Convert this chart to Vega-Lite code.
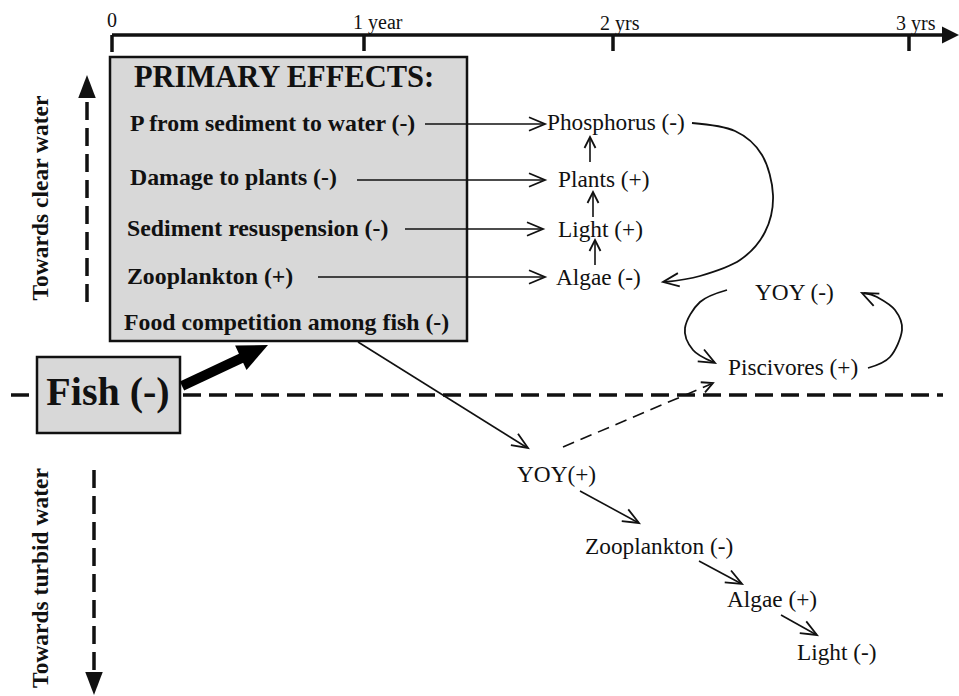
{
  "$schema": "https://vega.github.io/schema/vega-lite/v6.json",
  "width": 959,
  "height": 696,
  "padding": 0,
  "autosize": {"type": "fit", "contains": "padding"},
  "background": "white",
  "config": {"view": {"stroke": null}, "axis": {"disable": true}},
  "datasets": {
    "boxes": [
      {"id": "primary", "x": 110, "x2": 467, "y": 57, "y2": 341},
      {"id": "fish", "x": 37, "x2": 180, "y": 357, "y2": 433}
    ],
    "segments": [
      {"kind": "axis", "x": 112, "y": 35, "x2": 945, "y2": 35},
      {"kind": "axis", "x": 112, "y": 35, "x2": 112, "y2": 52},
      {"kind": "axis", "x": 364, "y": 35, "x2": 364, "y2": 51},
      {"kind": "axis", "x": 613, "y": 35, "x2": 613, "y2": 51},
      {"kind": "axis", "x": 909, "y": 35, "x2": 909, "y2": 51},
      {"kind": "thin", "x": 425, "y": 124, "x2": 543, "y2": 124},
      {"kind": "thin", "x": 357, "y": 180, "x2": 543, "y2": 180},
      {"kind": "thin", "x": 405, "y": 229, "x2": 541, "y2": 229},
      {"kind": "thin", "x": 318, "y": 277, "x2": 543, "y2": 277},
      {"kind": "thin", "x": 590, "y": 162, "x2": 590, "y2": 139},
      {"kind": "thin", "x": 593, "y": 217, "x2": 593, "y2": 194},
      {"kind": "thin", "x": 595, "y": 265, "x2": 595, "y2": 242},
      {"kind": "thin", "x": 358, "y": 342, "x2": 526, "y2": 447},
      {"kind": "thin", "x": 580, "y": 491, "x2": 637, "y2": 522},
      {"kind": "thin", "x": 699, "y": 561, "x2": 740, "y2": 583},
      {"kind": "thin", "x": 781, "y": 615, "x2": 815, "y2": 634},
      {"kind": "dashthin", "x": 563, "y": 447, "x2": 711, "y2": 384},
      {"kind": "dashthick", "x": 11, "y": 395, "x2": 37, "y2": 395},
      {"kind": "dashthick", "x": 183, "y": 395, "x2": 943, "y2": 395},
      {"kind": "dashthick", "x": 87, "y": 102, "x2": 87, "y2": 305},
      {"kind": "dashthick", "x": 94, "y": 470, "x2": 94, "y2": 677},
      {"kind": "shaft", "x": 182, "y": 386, "x2": 248, "y2": 355}
    ],
    "curves": [
      {"id": "A", "i": 1, "x": 692, "y": 123},
      {"id": "A", "i": 2, "x": 735, "y": 131},
      {"id": "A", "i": 3, "x": 762, "y": 155},
      {"id": "A", "i": 4, "x": 773, "y": 195},
      {"id": "A", "i": 5, "x": 765, "y": 232},
      {"id": "A", "i": 6, "x": 740, "y": 260},
      {"id": "A", "i": 7, "x": 700, "y": 276},
      {"id": "A", "i": 8, "x": 665, "y": 282},
      {"id": "B", "i": 1, "x": 727, "y": 290},
      {"id": "B", "i": 2, "x": 700, "y": 302},
      {"id": "B", "i": 3, "x": 685, "y": 328},
      {"id": "B", "i": 4, "x": 693, "y": 350},
      {"id": "B", "i": 5, "x": 713, "y": 362},
      {"id": "C", "i": 1, "x": 868, "y": 368},
      {"id": "C", "i": 2, "x": 890, "y": 357},
      {"id": "C", "i": 3, "x": 902, "y": 330},
      {"id": "C", "i": 4, "x": 895, "y": 310},
      {"id": "C", "i": 5, "x": 877, "y": 297},
      {"id": "C", "i": 6, "x": 864, "y": 293}
    ],
    "heads": [
      {"kind": "open", "x": 545, "y": 124, "dir": 0},
      {"kind": "open", "x": 545, "y": 180, "dir": 0},
      {"kind": "open", "x": 543, "y": 229, "dir": 0},
      {"kind": "open", "x": 545, "y": 277, "dir": 0},
      {"kind": "open", "x": 528, "y": 448, "dir": 32},
      {"kind": "open", "x": 639, "y": 523, "dir": 29},
      {"kind": "open", "x": 742, "y": 584, "dir": 28},
      {"kind": "open", "x": 817, "y": 635, "dir": 29},
      {"kind": "open", "x": 663, "y": 282, "dir": 172},
      {"kind": "open", "x": 715, "y": 363, "dir": 28},
      {"kind": "open", "x": 862, "y": 293, "dir": 205},
      {"kind": "small", "x": 590, "y": 137, "dir": -90},
      {"kind": "small", "x": 593, "y": 192, "dir": -90},
      {"kind": "small", "x": 595, "y": 240, "dir": -90},
      {"kind": "small", "x": 713, "y": 383, "dir": -23},
      {"kind": "timeline", "x": 959, "y": 35, "dir": 0},
      {"kind": "side", "x": 87, "y": 75, "dir": -90},
      {"kind": "side", "x": 94, "y": 695, "dir": 90},
      {"kind": "fish", "x": 268, "y": 345, "dir": -25}
    ],
    "labels": [
      {"role": "axis", "text": "0", "x": 107, "y": 21},
      {"role": "axis", "text": "1 year", "x": 353, "y": 23},
      {"role": "axis", "text": "2 yrs", "x": 600, "y": 24},
      {"role": "axis", "text": "3 yrs", "x": 896, "y": 24},
      {"role": "heading", "text": "PRIMARY EFFECTS:", "x": 284, "y": 78},
      {"role": "item", "text": "P from sediment to water (-)", "x": 130, "y": 124},
      {"role": "item", "text": "Damage to plants (-)", "x": 130, "y": 178},
      {"role": "item", "text": "Sediment resuspension (-)", "x": 127, "y": 229},
      {"role": "item", "text": "Zooplankton (+)", "x": 127, "y": 277},
      {"role": "item", "text": "Food competition among fish (-)", "x": 124, "y": 323},
      {"role": "fish", "text": "Fish (-)", "x": 108, "y": 393},
      {"role": "side", "text": "Towards  clear water", "x": 41, "y": 198},
      {"role": "side", "text": "Towards  turbid water", "x": 41, "y": 578},
      {"role": "node", "text": "Phosphorus (-)", "x": 547, "y": 123},
      {"role": "node", "text": "Plants (+)", "x": 558, "y": 180},
      {"role": "node", "text": "Light (+)", "x": 558, "y": 230},
      {"role": "node", "text": "Algae (-)", "x": 556, "y": 278},
      {"role": "node", "text": "YOY (-)", "x": 755, "y": 293},
      {"role": "node", "text": "Piscivores (+)", "x": 728, "y": 368},
      {"role": "node", "text": "YOY(+)", "x": 517, "y": 475},
      {"role": "node", "text": "Zooplankton (-)", "x": 585, "y": 547},
      {"role": "node", "text": "Algae (+)", "x": 727, "y": 600},
      {"role": "node", "text": "Light (-)", "x": 797, "y": 653}
    ]
  },
  "layer": [
    {
      "data": {"name": "boxes"},
      "mark": {"type": "rect", "fill": "#d8d8d8", "stroke": "#111111", "strokeWidth": 2.5},
      "encoding": {
        "x": {"field": "x", "type": "quantitative", "scale": {"domain": [0, 959], "nice": false, "zero": false}},
        "x2": {"field": "x2"},
        "y": {"field": "y", "type": "quantitative", "scale": {"domain": [696, 0], "nice": false, "zero": false}},
        "y2": {"field": "y2"}
      }
    },
    {
      "data": {"name": "segments"},
      "transform": [{"filter": {"field": "kind", "equal": "axis"}}],
      "mark": {"type": "rule", "stroke": "#111111", "strokeWidth": 3.5},
      "encoding": {
        "x": {"field": "x", "type": "quantitative"},
        "x2": {"field": "x2"},
        "y": {"field": "y", "type": "quantitative"},
        "y2": {"field": "y2"}
      }
    },
    {
      "data": {"name": "segments"},
      "transform": [{"filter": {"field": "kind", "equal": "thin"}}],
      "mark": {"type": "rule", "stroke": "#111111", "strokeWidth": 1.6},
      "encoding": {
        "x": {"field": "x", "type": "quantitative"},
        "x2": {"field": "x2"},
        "y": {"field": "y", "type": "quantitative"},
        "y2": {"field": "y2"}
      }
    },
    {
      "data": {"name": "segments"},
      "transform": [{"filter": {"field": "kind", "equal": "dashthin"}}],
      "mark": {"type": "rule", "stroke": "#111111", "strokeWidth": 1.6, "strokeDash": [12, 7]},
      "encoding": {
        "x": {"field": "x", "type": "quantitative"},
        "x2": {"field": "x2"},
        "y": {"field": "y", "type": "quantitative"},
        "y2": {"field": "y2"}
      }
    },
    {
      "data": {"name": "segments"},
      "transform": [{"filter": {"field": "kind", "equal": "dashthick"}}],
      "mark": {"type": "rule", "stroke": "#111111", "strokeWidth": 3.5, "strokeDash": [18, 8]},
      "encoding": {
        "x": {"field": "x", "type": "quantitative"},
        "x2": {"field": "x2"},
        "y": {"field": "y", "type": "quantitative"},
        "y2": {"field": "y2"}
      }
    },
    {
      "data": {"name": "segments"},
      "transform": [{"filter": {"field": "kind", "equal": "shaft"}}],
      "mark": {"type": "rule", "stroke": "#000000", "strokeWidth": 10},
      "encoding": {
        "x": {"field": "x", "type": "quantitative"},
        "x2": {"field": "x2"},
        "y": {"field": "y", "type": "quantitative"},
        "y2": {"field": "y2"}
      }
    },
    {
      "data": {"name": "curves"},
      "mark": {"type": "line", "stroke": "#111111", "strokeWidth": 1.8, "interpolate": "cardinal"},
      "encoding": {
        "x": {"field": "x", "type": "quantitative"},
        "y": {"field": "y", "type": "quantitative"},
        "detail": {"field": "id", "type": "nominal"},
        "order": {"field": "i", "type": "quantitative"}
      }
    },
    {
      "data": {"name": "heads"},
      "transform": [{"filter": {"field": "kind", "equal": "open"}}],
      "mark": {"type": "point", "shape": "M-1,-0.42L0,0L-1,0.42", "filled": false, "stroke": "#111111", "strokeWidth": 1.8, "size": 1024, "opacity": 1},
      "encoding": {
        "x": {"field": "x", "type": "quantitative"},
        "y": {"field": "y", "type": "quantitative"},
        "angle": {"field": "dir", "type": "quantitative", "scale": null}
      }
    },
    {
      "data": {"name": "heads"},
      "transform": [{"filter": {"field": "kind", "equal": "small"}}],
      "mark": {"type": "point", "shape": "M-1,-0.5L0,0L-1,0.5", "filled": false, "stroke": "#111111", "strokeWidth": 1.8, "size": 484, "opacity": 1},
      "encoding": {
        "x": {"field": "x", "type": "quantitative"},
        "y": {"field": "y", "type": "quantitative"},
        "angle": {"field": "dir", "type": "quantitative", "scale": null}
      }
    },
    {
      "data": {"name": "heads"},
      "transform": [{"filter": {"field": "kind", "equal": "timeline"}}],
      "mark": {"type": "point", "shape": "M-1,-0.5L0,0L-1,0.5Z", "filled": true, "fill": "#111111", "size": 1156, "opacity": 1},
      "encoding": {
        "x": {"field": "x", "type": "quantitative"},
        "y": {"field": "y", "type": "quantitative"},
        "angle": {"field": "dir", "type": "quantitative", "scale": null}
      }
    },
    {
      "data": {"name": "heads"},
      "transform": [{"filter": {"field": "kind", "equal": "side"}}],
      "mark": {"type": "point", "shape": "M-1,-0.38L0,0L-1,0.38Z", "filled": true, "fill": "#111111", "size": 2116, "opacity": 1},
      "encoding": {
        "x": {"field": "x", "type": "quantitative"},
        "y": {"field": "y", "type": "quantitative"},
        "angle": {"field": "dir", "type": "quantitative", "scale": null}
      }
    },
    {
      "data": {"name": "heads"},
      "transform": [{"filter": {"field": "kind", "equal": "fish"}}],
      "mark": {"type": "point", "shape": "M-1,-0.45L0,0L-1,0.45Z", "filled": true, "fill": "#000000", "size": 3600, "opacity": 1},
      "encoding": {
        "x": {"field": "x", "type": "quantitative"},
        "y": {"field": "y", "type": "quantitative"},
        "angle": {"field": "dir", "type": "quantitative", "scale": null}
      }
    },
    {
      "data": {"name": "labels"},
      "transform": [{"filter": {"field": "role", "equal": "axis"}}],
      "mark": {"type": "text", "font": "Liberation Serif", "fontSize": 20, "align": "left", "baseline": "middle", "color": "#111111"},
      "encoding": {
        "x": {"field": "x", "type": "quantitative"},
        "y": {"field": "y", "type": "quantitative"},
        "text": {"field": "text"}
      }
    },
    {
      "data": {"name": "labels"},
      "transform": [{"filter": {"field": "role", "equal": "heading"}}],
      "mark": {"type": "text", "font": "Liberation Serif", "fontWeight": "bold", "fontSize": 30.5, "align": "center", "baseline": "middle", "color": "#111111"},
      "encoding": {
        "x": {"field": "x", "type": "quantitative"},
        "y": {"field": "y", "type": "quantitative"},
        "text": {"field": "text"}
      }
    },
    {
      "data": {"name": "labels"},
      "transform": [{"filter": {"field": "role", "equal": "item"}}],
      "mark": {"type": "text", "font": "Liberation Serif", "fontWeight": "bold", "fontSize": 23.8, "align": "left", "baseline": "middle", "color": "#111111"},
      "encoding": {
        "x": {"field": "x", "type": "quantitative"},
        "y": {"field": "y", "type": "quantitative"},
        "text": {"field": "text"}
      }
    },
    {
      "data": {"name": "labels"},
      "transform": [{"filter": {"field": "role", "equal": "fish"}}],
      "mark": {"type": "text", "font": "Liberation Serif", "fontWeight": "bold", "fontSize": 40, "align": "center", "baseline": "middle", "color": "#111111"},
      "encoding": {
        "x": {"field": "x", "type": "quantitative"},
        "y": {"field": "y", "type": "quantitative"},
        "text": {"field": "text"}
      }
    },
    {
      "data": {"name": "labels"},
      "transform": [{"filter": {"field": "role", "equal": "side"}}],
      "mark": {"type": "text", "font": "Liberation Serif", "fontWeight": "bold", "fontSize": 23.5, "align": "center", "baseline": "middle", "angle": 270, "color": "#111111"},
      "encoding": {
        "x": {"field": "x", "type": "quantitative"},
        "y": {"field": "y", "type": "quantitative"},
        "text": {"field": "text"}
      }
    },
    {
      "data": {"name": "labels"},
      "transform": [{"filter": {"field": "role", "equal": "node"}}],
      "mark": {"type": "text", "font": "Liberation Serif", "fontSize": 23.3, "align": "left", "baseline": "middle", "color": "#111111"},
      "encoding": {
        "x": {"field": "x", "type": "quantitative"},
        "y": {"field": "y", "type": "quantitative"},
        "text": {"field": "text"}
      }
    }
  ]
}
